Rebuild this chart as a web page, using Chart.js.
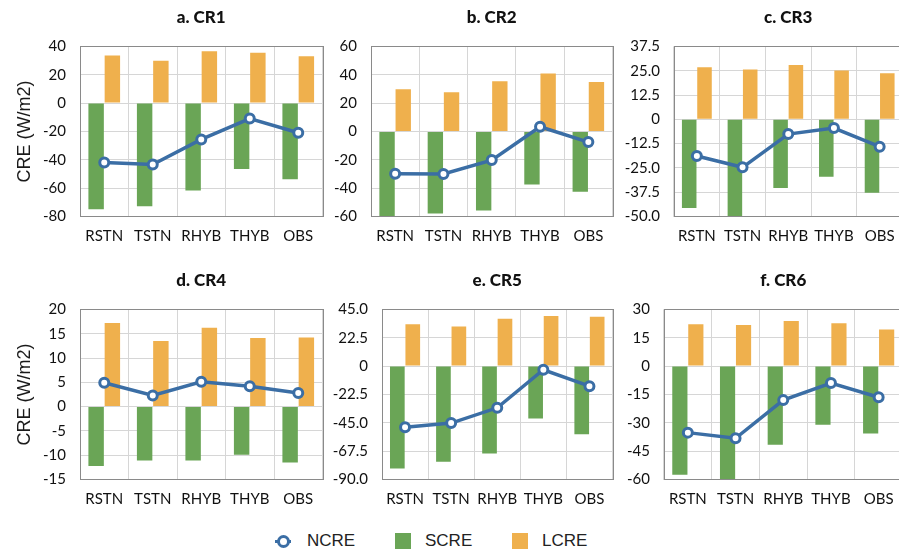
<!DOCTYPE html>
<html>
<head>
<meta charset="utf-8">
<script src="https://cdn.jsdelivr.net/npm/chart.js@4.4.0/dist/chart.umd.min.js"></script>
<style>
  html, body { margin: 0; padding: 0; width: 899px; height: 550px; overflow: hidden; background: #fff; }
  canvas { position: absolute; }
  .lg { position: absolute; top: 531px; line-height: 20px; font: 17px "Liberation Sans", Arial, sans-serif; color: #222; }
  .sw { position: absolute; width: 16px; height: 16px; top: 533px; }
</style>
</head>
<body>
<div class="lg" style="left:307px">NCRE</div>
<div class="sw" style="left:395px;background:#6aa556"></div>
<div class="lg" style="left:425px">SCRE</div>
<div class="sw" style="left:512px;background:#efb04d"></div>
<div class="lg" style="left:542px">LCRE</div>
<div style="position:absolute;left:275px;top:540px;width:16px;height:3px;background:#3b6ea5"></div>
<div style="position:absolute;left:277px;top:535px;width:7px;height:7px;border:3px solid #3b6ea5;border-radius:50%;background:#fff"></div>
<script>
const categories = ['RSTN', 'TSTN', 'RHYB', 'THYB', 'OBS'];

// a. CR1
const screA = [-74.9, -72.8, -61.6, -46.5, -53.7];
const lcreA = [33.5, 29.8, 36.5, 35.6, 33.0];
const ncreA = [-41.9, -43.3, -25.6, -10.9, -20.9];
const ticksA = ['-80', '-60', '-40', '-20', '0', '20', '40'];

// b. CR2
const screB = [-59.6, -57.8, -55.7, -37.5, -42.6];
const lcreB = [29.8, 27.7, 35.4, 40.8, 34.9];
const ncreB = [-29.8, -30.0, -20.2, 3.3, -7.5];
const ticksB = ['-60', '-40', '-20', '0', '20', '40', '60'];

// c. CR3
const screC = [-45.6, -50.3, -35.4, -29.6, -37.8];
const lcreC = [26.8, 25.6, 27.9, 25.1, 23.7];
const ncreC = [-18.9, -24.7, -7.6, -4.5, -14.1];
const ticksC = ['-50.0', '-37.5', '-25.0', '-12.5', '0', '12.5', '25.0', '37.5'];

// d. CR4
const screD = [-12.2, -11.1, -11.1, -9.9, -11.5];
const lcreD = [17.2, 13.5, 16.2, 14.1, 14.2];
const ncreD = [4.9, 2.3, 5.1, 4.2, 2.8];
const ticksD = ['-15', '-10', '-5', '0', '5', '10', '15', '20'];

// e. CR5
const screE = [-81.3, -76.0, -69.3, -41.6, -54.0];
const lcreE = [33.3, 31.4, 37.5, 39.7, 39.1];
const ncreE = [-48.6, -45.2, -33.1, -2.9, -15.9];
const ticksE = ['-90.0', '-67.5', '-45.0', '-22.5', '0', '22.5', '45.0'];

// f. CR6
const screF = [-57.5, -60.0, -41.6, -31.0, -35.7];
const lcreF = [22.2, 21.7, 23.8, 22.7, 19.4];
const ncreF = [-35.2, -38.2, -18.0, -9.0, -16.5];
const ticksF = ['-60', '-45', '-30', '-15', '0', '15', '30'];

const BLUE = '#3b6ea5', GREEN = '#6aa556', ORANGE = '#efb04d';
const GRID = '#d6d6d6', TXT = '#111';
const FONT = 'Lato, "Open Sans", sans-serif';

// box round the plot area
const frame = {
  id: 'frame',
  afterDatasetsDraw(chart) {
    const a = chart.chartArea, c = chart.ctx;
    c.save();
    c.strokeStyle = '#8a8a8a';
    c.lineWidth = 1;
    c.strokeRect(Math.round(a.left) + 0.5, Math.round(a.top) + 0.5,
      Math.round(a.right - a.left), Math.round(a.bottom - a.top));
    c.restore();
  }
};

function makePanel(p) {
  const canvas = document.createElement('canvas');
  canvas.width = p.width;
  canvas.height = 250;
  canvas.style.left = p.left + 'px';
  canvas.style.top = p.top + 'px';
  document.body.appendChild(canvas);
  const tickVals = p.ticks.map(Number);

  new Chart(canvas.getContext('2d'), {
    type: 'bar',
    data: {
      labels: categories,
      datasets: [
        {
          type: 'line', label: 'NCRE', data: p.ncre, order: 0,
          borderColor: BLUE, borderWidth: 3.5,
          pointRadius: 4.5, pointBorderWidth: 3,
          pointBackgroundColor: '#fff', pointBorderColor: BLUE
        },
        { label: 'SCRE', data: p.scre, order: 1, backgroundColor: GREEN },
        { label: 'LCRE', data: p.lcre, order: 2, backgroundColor: ORANGE }
      ]
    },
    options: {
      responsive: false,
      animation: false,
      devicePixelRatio: 1,
      layout: { padding: { left: 0, right: p.rightPad, top: 0, bottom: 0 } },
      datasets: { bar: { categoryPercentage: 0.67, barPercentage: 0.95 } },
      plugins: {
        legend: { display: false },
        tooltip: { enabled: false },
        title: {
          display: true,
          text: p.title,
          fullSize: false,
          color: '#111',
          font: { family: FONT, size: 17, weight: '900' },
          padding: { top: 7, bottom: 19 }
        }
      },
      scales: {
        x: {
          grid: { color: GRID, drawTicks: false },
          border: { display: false },
          ticks: {
            color: TXT, font: { family: FONT, size: 15 }, padding: 11,
            maxRotation: 0, minRotation: 0, autoSkip: false
          },
          afterFit: (s) => { s.height = 33.5; }
        },
        y: {
          min: tickVals[0],
          max: tickVals[tickVals.length - 1],
          afterBuildTicks: (s) => { s.ticks = tickVals.map((v) => ({ value: v })); },
          grid: { color: GRID, drawTicks: false },
          border: { display: false },
          ticks: {
            color: TXT, font: { family: FONT, size: 15 }, padding: 14,
            callback: (v, i) => p.ticks[i]
          },
          title: {
            display: p.yTitle,
            text: 'CRE (W/m2)',
            color: '#1a1a1a',
            font: { family: '"Liberation Sans", Arial, sans-serif', size: 18 },
            padding: { top: 14, bottom: 0 }
          },
          afterFit: (s) => { s.width = p.yWidth; }
        }
      }
    },
    plugins: [frame]
  });
}

const rowTop = [0, 263];
makePanel({ title: 'a. CR1', left: 0, top: rowTop[0], width: 330, yWidth: 80, rightPad: 5, yTitle: true,
  ticks: ticksA, scre: screA, lcre: lcreA, ncre: ncreA });
makePanel({ title: 'b. CR2', left: 330, top: rowTop[0], width: 290, yWidth: 41, rightPad: 3, yTitle: false,
  ticks: ticksB, scre: screB, lcre: lcreB, ncre: ncreB });
makePanel({ title: 'c. CR3', left: 620, top: rowTop[0], width: 290, yWidth: 54, rightPad: 2, yTitle: false,
  ticks: ticksC, scre: screC, lcre: lcreC, ncre: ncreC });
makePanel({ title: 'd. CR4', left: 0, top: rowTop[1], width: 330, yWidth: 80, rightPad: 5, yTitle: true,
  ticks: ticksD, scre: screD, lcre: lcreD, ncre: ncreD });
makePanel({ title: 'e. CR5', left: 330, top: rowTop[1], width: 290, yWidth: 52, rightPad: 4, yTitle: false,
  ticks: ticksE, scre: screE, lcre: lcreE, ncre: ncreE });
makePanel({ title: 'f. CR6', left: 620, top: rowTop[1], width: 290, yWidth: 44, rightPad: 2, yTitle: false,
  ticks: ticksF, scre: screF, lcre: lcreF, ncre: ncreF });
</script>
</body>
</html>
